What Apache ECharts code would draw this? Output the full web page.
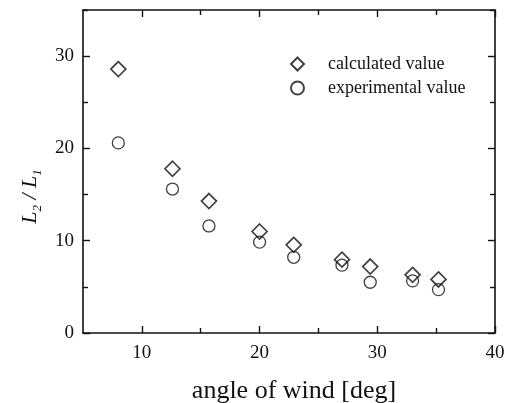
<!DOCTYPE html>
<html>
<head>
<meta charset="utf-8">
<script src="https://cdn.jsdelivr.net/npm/echarts@6/dist/echarts.min.js"></script>
<style>
  html, body { margin: 0; padding: 0; background: #fff; }
  #chart { width: 512px; height: 403px; }
</style>
</head>
<body>
<div id="chart"></div>
<script>
// angle of wind (deg) for each measurement
const angles = [8.0, 12.6, 15.7, 20.0, 22.9, 27.0, 29.4, 33.0, 35.2];
const calculated = [28.6, 17.8, 14.3, 11.0, 9.55, 7.95, 7.2, 6.3, 5.8];
const experimental = [20.6, 15.6, 11.6, 9.85, 8.2, 7.35, 5.5, 5.65, 4.7];

const xMajor = [10, 20, 30, 40];
const xMinor = [15, 25, 35];
const yMajor = [0, 10, 20, 30];
const yMinor = [5, 15, 25, 35];

const serif = '"Liberation Serif", "DejaVu Serif", serif';
const ink = '#111';

function pairs(xs, ys) {
    return xs.map((x, i) => [x, ys[i]]);
}

// one axis = line + major ticks (+labels), second one only minor ticks
function xAx(pos, ticks, len, labels, line) {
    return {
        type: 'value', position: pos, min: 5, max: 40,
        axisLine: { show: line, onZero: false, lineStyle: { color: ink, width: 1.6 } },
        axisTick: { inside: true, length: len, customValues: ticks, lineStyle: { color: ink, width: 1.4 } },
        axisLabel: labels ? { customValues: ticks, color: ink, fontFamily: serif, fontSize: 19, margin: 11 } : { show: false },
        splitLine: { show: false }
    };
}
function yAx(pos, ticks, len, labels, line) {
    return {
        type: 'value', position: pos, min: 0, max: 35,
        axisLine: { show: line, onZero: false, lineStyle: { color: ink, width: 1.6 } },
        axisTick: { inside: true, length: len, customValues: ticks, lineStyle: { color: ink, width: 1.4 } },
        axisLabel: labels ? { customValues: ticks, color: ink, fontFamily: serif, fontSize: 19, margin: 9 } : { show: false },
        splitLine: { show: false }
    };
}

const xAxes = [
    xAx('bottom', xMajor, 7, true, true),
    xAx('bottom', xMinor, 5, false, false),
    xAx('top', xMajor, 7, false, true),
    xAx('top', xMinor, 5, false, false)
];
xAxes[0].name = 'angle of wind [deg]';
xAxes[0].nameLocation = 'middle';
xAxes[0].nameGap = 45;
xAxes[0].nameTextStyle = { color: ink, fontFamily: serif, fontSize: 26, padding: [0, 0, 0, 10] };

const yAxes = [
    yAx('left', yMajor, 7, true, true),
    yAx('left', yMinor, 5, false, false),
    yAx('right', yMajor, 7, false, true),
    yAx('right', yMinor, 5, false, false)
];
yAxes[0].name = '{i|L}{s|2}{i| / L}{s|1}';
yAxes[0].nameLocation = 'middle';
yAxes[0].nameRotate = 90;
yAxes[0].nameGap = 40;
yAxes[0].nameTextStyle = {
    color: ink,
    padding: [0, 50, 0, 0],
    rich: {
        i: { fontFamily: serif, fontStyle: 'italic', fontSize: 22, color: ink },
        s: { fontFamily: serif, fontStyle: 'italic', fontSize: 13, color: ink, verticalAlign: 'bottom', padding: [0, 0, -3, 0] }
    }
};

const chart = echarts.init(document.getElementById('chart'));
chart.setOption({
    animation: false,
    backgroundColor: '#fff',
    grid: { left: 83, right: 17, top: 10, bottom: 70, containLabel: false, outerBoundsMode: 'none' },
    legend: {
        orient: 'vertical',
        left: 285, top: 50,
        itemWidth: 13, itemHeight: 13, itemGap: 6,
        textStyle: { color: ink, fontFamily: serif, fontSize: 18, padding: [0, 0, 0, 19] },
        data: ['calculated value', 'experimental value']
    },
    xAxis: xAxes,
    yAxis: yAxes,
    series: [
        {
            name: 'calculated value', type: 'scatter', symbol: 'diamond', symbolSize: 15,
            itemStyle: { color: 'rgba(255,255,255,0)', borderColor: ink, borderWidth: 1.7 },
            data: pairs(angles, calculated)
        },
        {
            name: 'experimental value', type: 'scatter', symbol: 'circle', symbolSize: 12,
            itemStyle: { color: 'rgba(255,255,255,0)', borderColor: ink, borderWidth: 1.3 },
            data: pairs(angles, experimental)
        }
    ]
});
</script>
</body>
</html>
